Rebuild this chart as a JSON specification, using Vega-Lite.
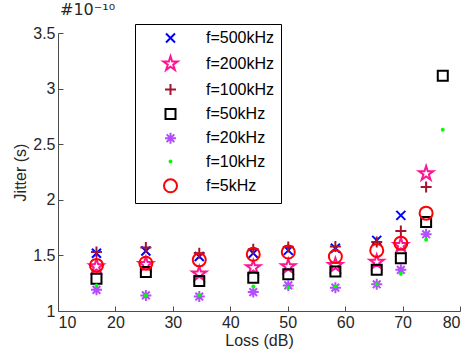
{
  "$schema": "https://vega.github.io/schema/vega-lite/v6.json",
  "autosize": "none",
  "width": 402,
  "height": 278,
  "padding": {"left": 58, "top": 33, "right": 8, "bottom": 41},
  "background": "white",
  "title": {"text": "#10⁻¹⁰", "anchor": "start", "frame": "group", "fontSize": 16, "font": "DejaVu Sans", "fontWeight": "normal", "color": "#262626", "offset": 6, "dx": 2},
  "data": {"values": [
    {"loss": 16.7, "jitter": 1.52, "series": "f=500kHz"},
    {"loss": 16.7, "jitter": 1.40, "series": "f=200kHz"},
    {"loss": 16.7, "jitter": 1.53, "series": "f=100kHz"},
    {"loss": 16.7, "jitter": 1.29, "series": "f=50kHz"},
    {"loss": 16.7, "jitter": 1.19, "series": "f=20kHz"},
    {"loss": 16.7, "jitter": 1.23, "series": "f=10kHz"},
    {"loss": 16.7, "jitter": 1.41, "series": "f=5kHz"},
    {"loss": 25.3, "jitter": 1.54, "series": "f=500kHz"},
    {"loss": 25.3, "jitter": 1.42, "series": "f=200kHz"},
    {"loss": 25.3, "jitter": 1.57, "series": "f=100kHz"},
    {"loss": 25.3, "jitter": 1.35, "series": "f=50kHz"},
    {"loss": 25.3, "jitter": 1.14, "series": "f=20kHz"},
    {"loss": 25.3, "jitter": 1.14, "series": "f=10kHz"},
    {"loss": 25.3, "jitter": 1.43, "series": "f=5kHz"},
    {"loss": 34.6, "jitter": 1.49, "series": "f=500kHz"},
    {"loss": 34.6, "jitter": 1.335, "series": "f=200kHz"},
    {"loss": 34.6, "jitter": 1.52, "series": "f=100kHz"},
    {"loss": 34.6, "jitter": 1.27, "series": "f=50kHz"},
    {"loss": 34.6, "jitter": 1.13, "series": "f=20kHz"},
    {"loss": 34.6, "jitter": 1.145, "series": "f=10kHz"},
    {"loss": 34.6, "jitter": 1.46, "series": "f=5kHz"},
    {"loss": 44.0, "jitter": 1.52, "series": "f=500kHz"},
    {"loss": 44.0, "jitter": 1.39, "series": "f=200kHz"},
    {"loss": 44.0, "jitter": 1.555, "series": "f=100kHz"},
    {"loss": 44.0, "jitter": 1.30, "series": "f=50kHz"},
    {"loss": 44.0, "jitter": 1.17, "series": "f=20kHz"},
    {"loss": 44.0, "jitter": 1.22, "series": "f=10kHz"},
    {"loss": 44.0, "jitter": 1.51, "series": "f=5kHz"},
    {"loss": 50.1, "jitter": 1.545, "series": "f=500kHz"},
    {"loss": 50.1, "jitter": 1.40, "series": "f=200kHz"},
    {"loss": 50.1, "jitter": 1.575, "series": "f=100kHz"},
    {"loss": 50.1, "jitter": 1.33, "series": "f=50kHz"},
    {"loss": 50.1, "jitter": 1.23, "series": "f=20kHz"},
    {"loss": 50.1, "jitter": 1.21, "series": "f=10kHz"},
    {"loss": 50.1, "jitter": 1.53, "series": "f=5kHz"},
    {"loss": 58.3, "jitter": 1.565, "series": "f=500kHz"},
    {"loss": 58.3, "jitter": 1.41, "series": "f=200kHz"},
    {"loss": 58.3, "jitter": 1.58, "series": "f=100kHz"},
    {"loss": 58.3, "jitter": 1.355, "series": "f=50kHz"},
    {"loss": 58.3, "jitter": 1.21, "series": "f=20kHz"},
    {"loss": 58.3, "jitter": 1.22, "series": "f=10kHz"},
    {"loss": 58.3, "jitter": 1.49, "series": "f=5kHz"},
    {"loss": 65.5, "jitter": 1.635, "series": "f=500kHz"},
    {"loss": 65.5, "jitter": 1.44, "series": "f=200kHz"},
    {"loss": 65.5, "jitter": 1.62, "series": "f=100kHz"},
    {"loss": 65.5, "jitter": 1.37, "series": "f=50kHz"},
    {"loss": 65.5, "jitter": 1.24, "series": "f=20kHz"},
    {"loss": 65.5, "jitter": 1.24, "series": "f=10kHz"},
    {"loss": 65.5, "jitter": 1.545, "series": "f=5kHz"},
    {"loss": 69.7, "jitter": 1.86, "series": "f=500kHz"},
    {"loss": 69.7, "jitter": 1.59, "series": "f=200kHz"},
    {"loss": 69.7, "jitter": 1.72, "series": "f=100kHz"},
    {"loss": 69.7, "jitter": 1.475, "series": "f=50kHz"},
    {"loss": 69.7, "jitter": 1.37, "series": "f=20kHz"},
    {"loss": 69.7, "jitter": 1.335, "series": "f=10kHz"},
    {"loss": 69.7, "jitter": 1.61, "series": "f=5kHz"},
    {"loss": 74.1, "jitter": 2.236, "series": "f=200kHz"},
    {"loss": 74.1, "jitter": 2.115, "series": "f=100kHz"},
    {"loss": 74.1, "jitter": 1.80, "series": "f=50kHz"},
    {"loss": 74.1, "jitter": 1.69, "series": "f=20kHz"},
    {"loss": 74.1, "jitter": 1.64, "series": "f=10kHz"},
    {"loss": 74.1, "jitter": 1.88, "series": "f=5kHz"},
    {"loss": 77.0, "jitter": 3.115, "series": "f=50kHz"},
    {"loss": 77.0, "jitter": 2.63, "series": "f=10kHz"}
  ]},
  "mark": {"type": "point", "filled": false, "strokeWidth": 2, "opacity": 1},
  "encoding": {
    "x": {"field": "loss", "type": "quantitative", "scale": {"domain": [10, 80], "nice": false, "zero": false},
      "axis": {"title": "Loss (dB)", "values": [10, 20, 30, 40, 50, 60, 70, 80], "grid": false, "tickSize": -5, "labelPadding": 8, "titlePadding": 2, "labelFontSize": 16, "titleFontSize": 16}},
    "y": {"field": "jitter", "type": "quantitative", "scale": {"domain": [1, 3.5], "nice": false, "zero": false},
      "axis": {"title": "Jitter (s)", "values": [1, 1.5, 2, 2.5, 3, 3.5], "format": ".1~f", "grid": false, "tickSize": -5, "labelPadding": 8, "titlePadding": 4, "labelFontSize": 16, "titleFontSize": 16}},
    "color": {"field": "series", "type": "nominal",
      "scale": {"domain": ["f=500kHz", "f=200kHz", "f=100kHz", "f=50kHz", "f=20kHz", "f=10kHz", "f=5kHz"],
        "range": ["#0000ff", "#ff1493", "#a2142f", "#000000", "#b44cff", "#00ff00", "#ff0000"]},
      "legend": {"title": null, "orient": "none", "legendX": 77, "legendY": -9, "strokeColor": "#000000", "fillColor": "#ffffff", "padding": 6, "symbolOffset": 21, "labelOffset": 27, "rowPadding": 5.3, "labelFontSize": 16, "labelFont": "Liberation Sans", "labelColor": "#000000", "symbolStrokeWidth": 2}},
    "shape": {"field": "series", "type": "nominal",
      "scale": {"domain": ["f=500kHz", "f=200kHz", "f=100kHz", "f=50kHz", "f=20kHz", "f=10kHz", "f=5kHz"],
        "range": ["M-1,-1L1,1M-1,1L1,-1",
                  "M0,-1L0.225,-0.309L0.951,-0.309L0.363,0.118L0.588,0.809L0,0.382L-0.588,0.809L-0.363,0.118L-0.951,-0.309L-0.225,-0.309Z",
                  "M0,-1L0,1M-1,0L1,0",
                  "square",
                  "M0,-1L0,1M-1,0L1,0M-0.7,-0.7L0.7,0.7M-0.7,0.7L0.7,-0.7",
                  "circle",
                  "circle"]}},
    "size": {"field": "series", "type": "nominal",
      "scale": {"type": "ordinal", "domain": ["f=500kHz", "f=200kHz", "f=100kHz", "f=50kHz", "f=20kHz", "f=10kHz", "f=5kHz"],
        "range": [81, 225, 121, 100, 121, 4, 169]}}
  },
  "config": {
    "font": "Liberation Sans",
    "view": {"stroke": null},
    "axis": {"domainColor": "#4d4d4d", "tickColor": "#4d4d4d", "labelColor": "#262626", "titleColor": "#262626", "titleFontWeight": "normal", "labelFont": "Liberation Sans", "titleFont": "Liberation Sans", "domainWidth": 1, "tickWidth": 1}
  }
}
